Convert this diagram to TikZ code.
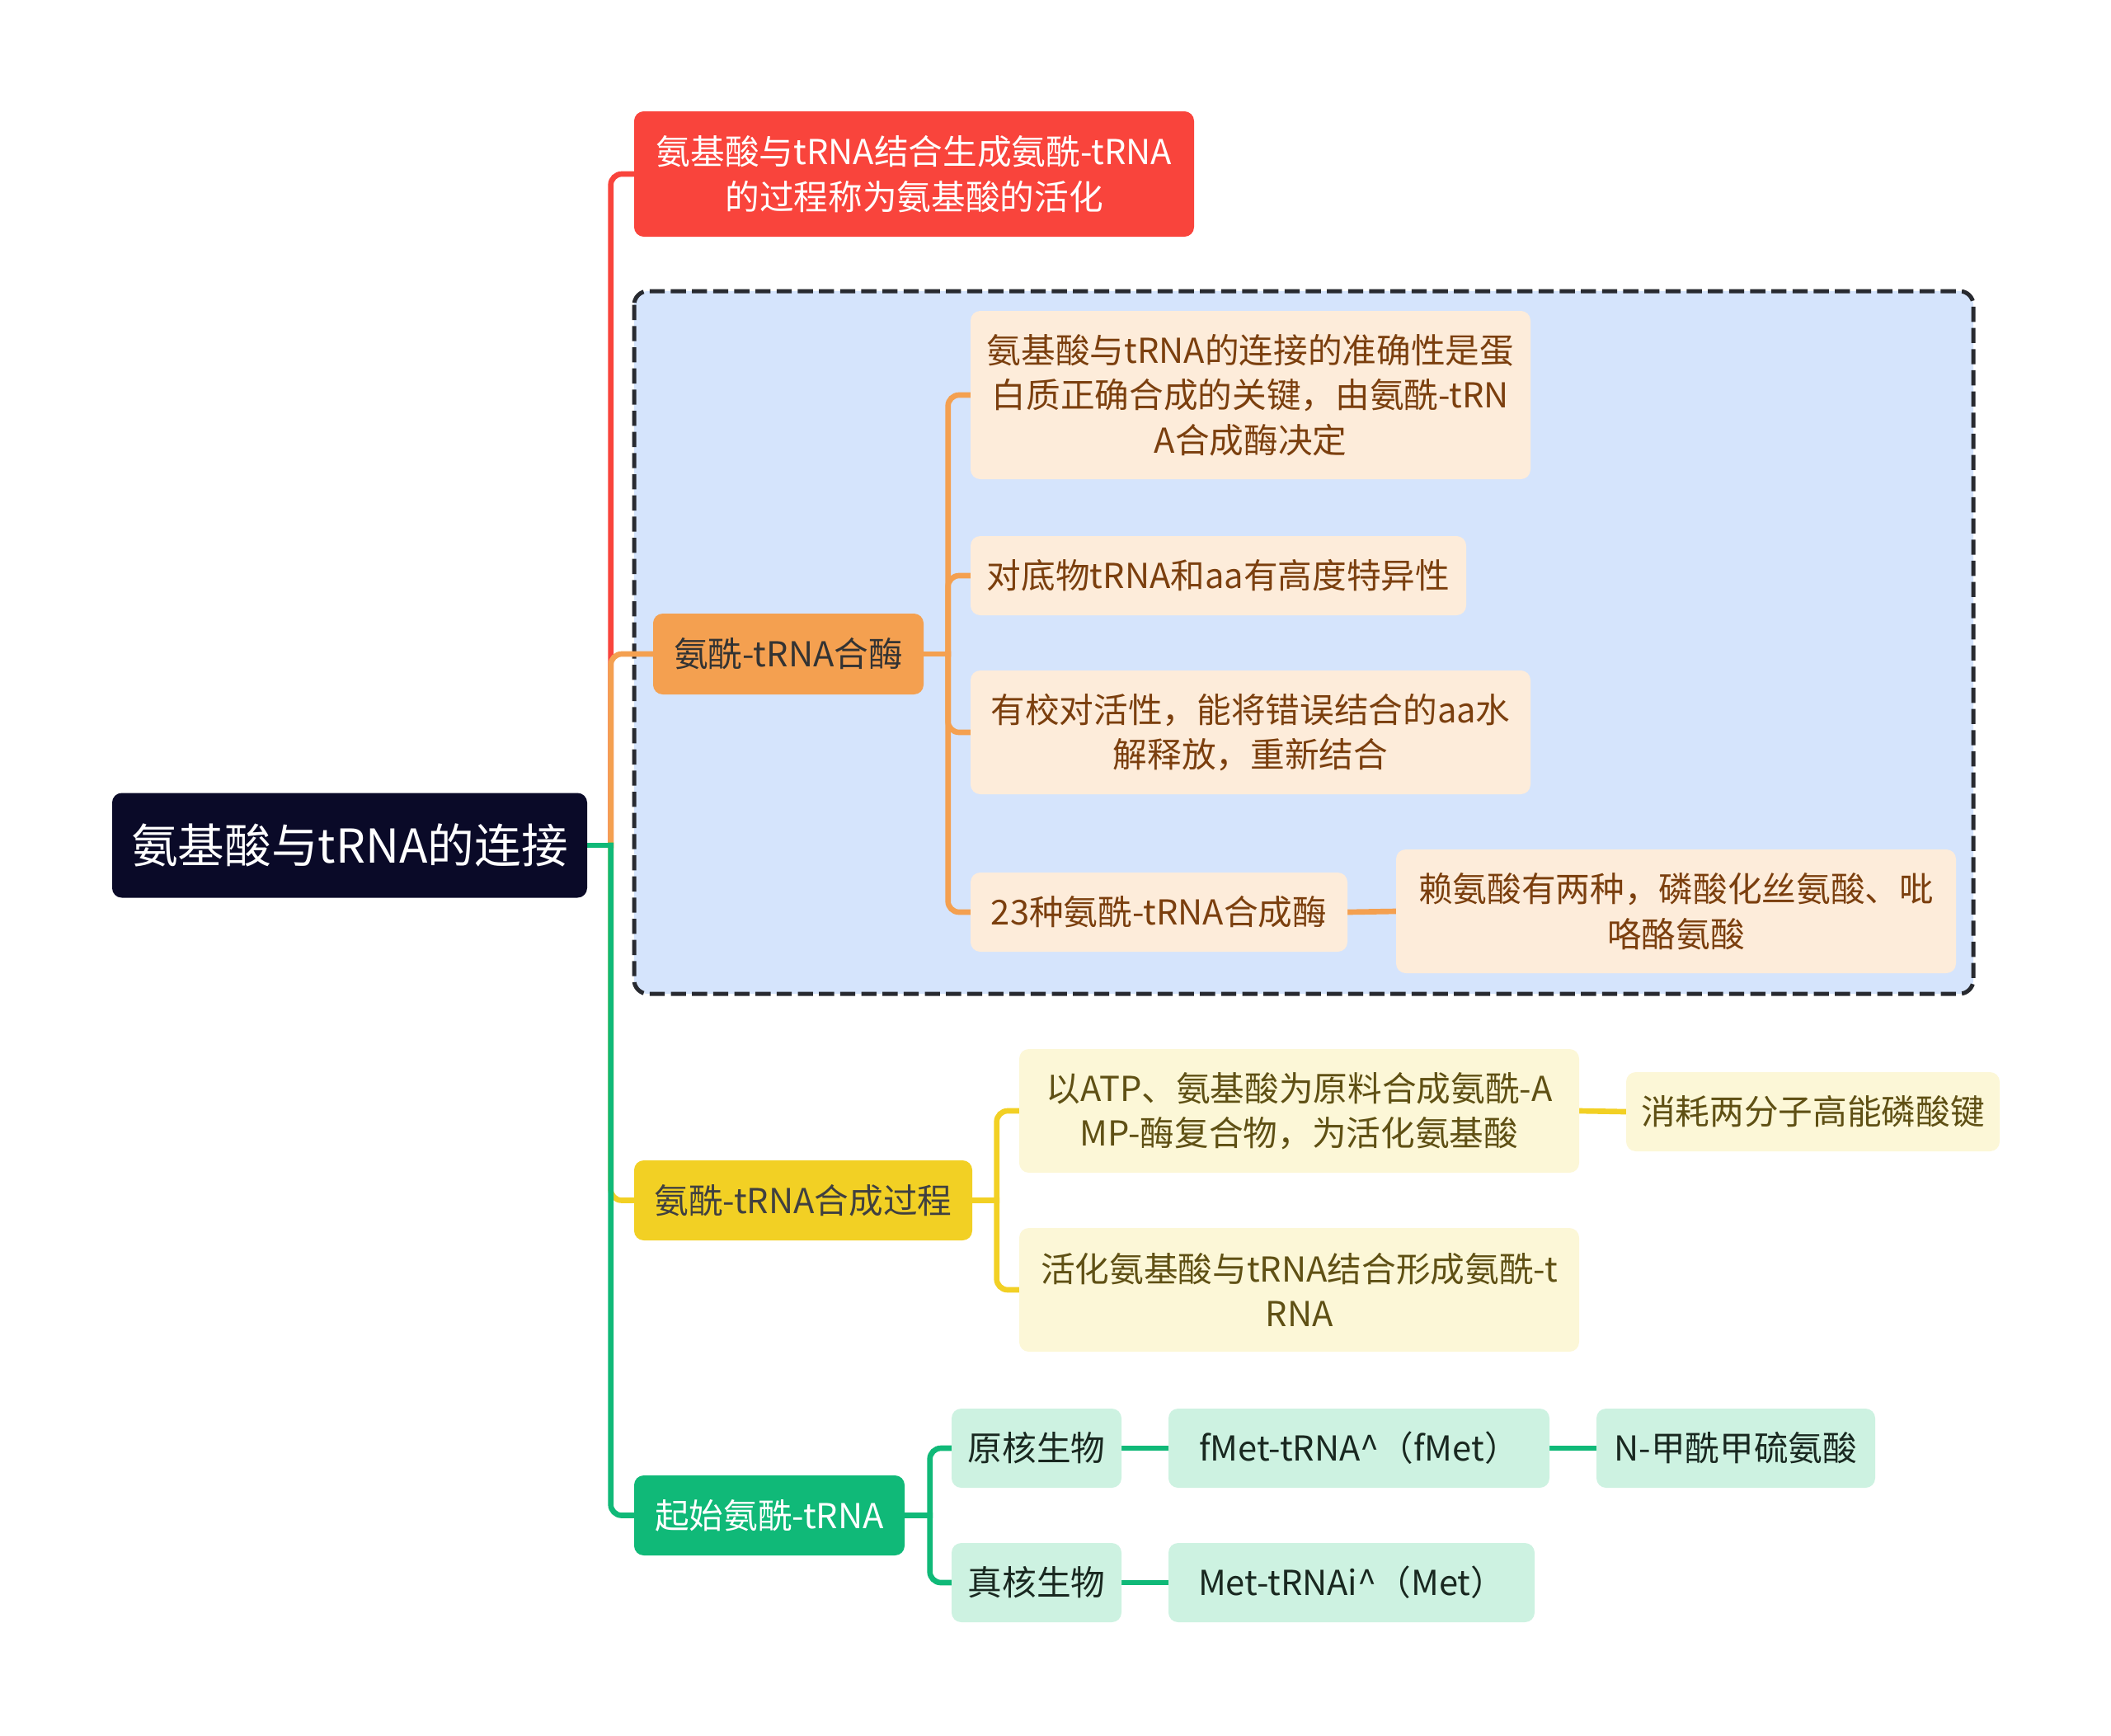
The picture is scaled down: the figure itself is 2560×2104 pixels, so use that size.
\documentclass[tikz,border=0pt]{standalone}
\usepackage{fontspec}
\setmainfont{Noto Sans CJK SC}
\usepackage{tikz}
\usetikzlibrary{calc}
\pgfdeclarelayer{back}
\pgfdeclarelayer{links}
\pgfsetlayers{back,links,main}
\definecolor{rootnavy}{RGB}{10,10,40}
\definecolor{topred}{RGB}{249,68,60}
\definecolor{boxblue}{RGB}{213,228,252}
\definecolor{boxedge}{RGB}{40,42,48}
\definecolor{enzorange}{RGB}{244,160,80}
\definecolor{enzpale}{RGB}{253,236,218}
\definecolor{enztext}{RGB}{123,63,14}
\definecolor{procyellow}{RGB}{242,208,36}
\definecolor{procpale}{RGB}{252,247,215}
\definecolor{proctext}{RGB}{95,80,20}
\definecolor{initgreen}{RGB}{16,185,120}
\definecolor{initpale}{RGB}{205,242,225}
\definecolor{inittext}{RGB}{25,40,32}
\tikzset{
    card/.style={rounded corners=3.5pt, inner sep=0pt, align=center,
        font=\fontsize{12.5}{16.4}\selectfont},
    rootcard/.style={card, fill=rootnavy, text=white,
        font=\fontsize{17}{20}\selectfont},
    redcard/.style={card, fill=topred, text=white},
    orangecard/.style={card, fill=enzorange, text=black!80},
    orangeleaf/.style={card, fill=enzpale, text=enztext},
    yellowcard/.style={card, fill=procyellow, text=black!75},
    yellowleaf/.style={card, fill=procpale, text=proctext},
    greencard/.style={card, fill=initgreen, text=white},
    greenleaf/.style={card, fill=initpale, text=inittext},
    link/.style={line width=2pt, line cap=rect},
    elbow/.style={link, rounded corners=4pt}
}
\begin{document}
\begin{tikzpicture}[x=0.3pt, y=-0.3pt]
    \useasboundingbox (0,0) rectangle (2560,2104);
    % dashed group
    \begin{pgfonlayer}{back}
    \draw[fill=boxblue, draw=boxedge, line width=1.5pt, dash pattern=on 5.5pt off 2.2pt,
        rounded corners=5pt] (769,353) rectangle (2393,1205);
    \end{pgfonlayer}
    % root
    \node[rootcard, minimum width=576*0.3pt, minimum height=127*0.3pt] (root) at (424,1025) {氨基酸与tRNA的连接};
    % first level
    \node[redcard, minimum width=679*0.3pt, minimum height=152*0.3pt] (activ) at (1108.5,211)
        {氨基酸与tRNA结合生成氨酰-tRNA\\的过程称为氨基酸的活化};
    \node[orangecard, minimum width=328*0.3pt, minimum height=98*0.3pt] (enzyme) at (956,793) {氨酰-tRNA合酶};
    \node[yellowcard, minimum width=410*0.3pt, minimum height=97*0.3pt] (process) at (974,1455.5) {氨酰-tRNA合成过程};
    \node[greencard, minimum width=328*0.3pt, minimum height=97*0.3pt] (start) at (933,1837.5) {起始氨酰-tRNA};
    % enzyme leaves
    \node[orangeleaf, minimum width=679*0.3pt, minimum height=204*0.3pt] (accur) at (1516.5,479)
        {氨基酸与tRNA的连接的准确性是蛋\\白质正确合成的关键，由氨酰-tRN\\A合成酶决定};
    \node[orangeleaf, minimum width=601*0.3pt, minimum height=96*0.3pt] (specif) at (1477.5,698)
        {对底物tRNA和aa有高度特异性};
    \node[orangeleaf, minimum width=679*0.3pt, minimum height=150*0.3pt] (proof) at (1516.5,888)
        {有校对活性，能将错误结合的aa水\\解释放，重新结合};
    \node[orangeleaf, minimum width=457*0.3pt, minimum height=96*0.3pt] (kinds) at (1405.5,1106)
        {23种氨酰-tRNA合成酶};
    \node[orangeleaf, minimum width=679*0.3pt, minimum height=150*0.3pt] (lysine) at (2032.5,1105)
        {赖氨酸有两种，磷酸化丝氨酸、吡\\咯酪氨酸};
    % process leaves
    \node[yellowleaf, minimum width=679*0.3pt, minimum height=150*0.3pt] (atp) at (1575.5,1347)
        {以ATP、氨基酸为原料合成氨酰-A\\MP-酶复合物，为活化氨基酸};
    \node[yellowleaf, minimum width=453*0.3pt, minimum height=96*0.3pt] (bonds) at (2198.5,1348)
        {消耗两分子高能磷酸键};
    \node[yellowleaf, minimum width=679*0.3pt, minimum height=150*0.3pt] (charge) at (1575.5,1564)
        {活化氨基酸与tRNA结合形成氨酰-t\\RNA};
    % start leaves
    \node[greenleaf, minimum width=206*0.3pt, minimum height=96*0.3pt] (prok) at (1257,1756) {原核生物};
    \node[greenleaf, minimum width=462*0.3pt, minimum height=96*0.3pt] (fmet) at (1648,1756)
        {fMet-tRNA\textasciicircum（fMet）};
    \node[greenleaf, minimum width=338*0.3pt, minimum height=96*0.3pt] (nform) at (2105,1756) {N-甲酰甲硫氨酸};
    \node[greenleaf, minimum width=206*0.3pt, minimum height=96*0.3pt] (euk) at (1257,1919) {真核生物};
    \node[greenleaf, minimum width=444*0.3pt, minimum height=96*0.3pt] (met) at (1639,1919)
        {Met-tRNAi\textasciicircum（Met）};
    % junction points
    \coordinate (roothub) at ($(root.east)+(28,0)$);
    \coordinate (enzhub) at ($(enzyme.east)+(29,0)$);
    \coordinate (prochub) at ($(process.east)+(29,0)$);
    \coordinate (starthub) at ($(start.east)+(30,0)$);
    \begin{pgfonlayer}{links}
    % links from root
    \draw[elbow, topred] (roothub) |- (activ.west);
    \draw[elbow, enzorange] (roothub) |- (enzyme.west);
    \draw[elbow, procyellow] (roothub) |- (process.west);
    \draw[elbow, initgreen] (roothub) |- (start.west);
    \draw[link, initgreen] (root.east) -- (roothub);
    % enzyme links
    \foreach \leaf in {accur, specif, proof, kinds}
        \draw[elbow, enzorange] (enzhub) |- (\leaf.west);
    \draw[link, enzorange] (enzyme.east) -- (enzhub);
    \draw[link, enzorange] (kinds.east) -- (lysine.west);
    % process links
    \foreach \leaf in {atp, charge}
        \draw[elbow, procyellow] (prochub) |- (\leaf.west);
    \draw[link, procyellow] (process.east) -- (prochub);
    \draw[link, procyellow] (atp.east) -- (bonds.west);
    % start links
    \foreach \leaf in {prok, euk}
        \draw[elbow, initgreen] (starthub) |- (\leaf.west);
    \draw[link, initgreen] (start.east) -- (starthub);
    \draw[link, initgreen] (prok.east) -- (fmet.west);
    \draw[link, initgreen] (fmet.east) -- (nform.west);
    \draw[link, initgreen] (euk.east) -- (met.west);
    \end{pgfonlayer}
\end{tikzpicture}
\end{document}
